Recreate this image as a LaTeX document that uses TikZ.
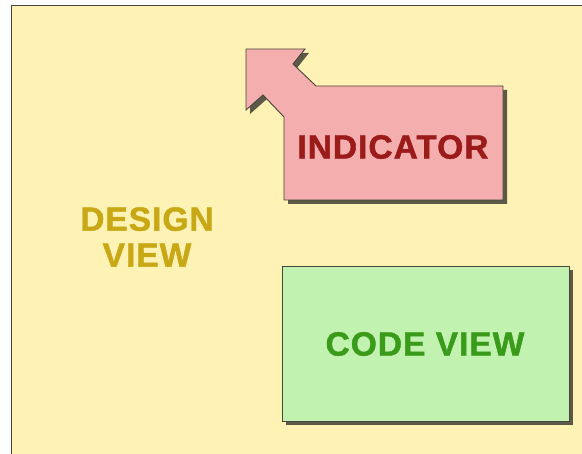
\documentclass[tikz,border=0pt]{standalone}
\usepackage{fontspec}
\setmainfont{Liberation Sans}[BoldFeatures={FakeBold=1.3,LetterSpace=3}]
\usetikzlibrary{shadows}
\definecolor{bgyellow}{RGB}{255,242,181}
\definecolor{pinkfill}{RGB}{244,174,174}
\definecolor{greenfill}{RGB}{193,242,175}
\definecolor{indred}{RGB}{155,27,27}
\definecolor{codegreen}{RGB}{58,154,26}
\definecolor{designgold}{RGB}{201,168,22}
\definecolor{edgegray}{RGB}{70,70,60}
\tikzset{
  panel/.style={draw=edgegray, line width=0.9pt, drop shadow={shadow xshift=4pt, shadow yshift=-4pt, opacity=0.75, fill=black!85}},
  bigtext/.style={font=\bfseries\fontsize{33.5}{36}\selectfont, inner sep=0pt, align=center}
}
\begin{document}
\begin{tikzpicture}[x=1pt,y=-1pt]
\useasboundingbox (0,0) rectangle (582,454);
% background
\fill[bgyellow] (11,5) rectangle (584,456);
\draw[edgegray, line width=1.4pt] (11.7,456) -- (11.7,5.7) -- (584,5.7);
% indicator shape
\path[panel, fill=pinkfill] (246,49) -- (305,49) -- (293,64) -- (316,86) -- (503,86) -- (503,200) -- (284,200) -- (284,117) -- (263,95) -- (246,110) -- cycle;
\node[bigtext, text=indred] (indicator) at (393,147) {INDICATOR};
% code view
\path[panel, fill=greenfill] (282,266) rectangle (569,421);
\node[bigtext, text=codegreen] (codeview) at (425,344) {CODE VIEW};
% design view
\node[bigtext, text=designgold] (designview) at (147,237) {DESIGN\\VIEW};
\end{tikzpicture}
\end{document}
